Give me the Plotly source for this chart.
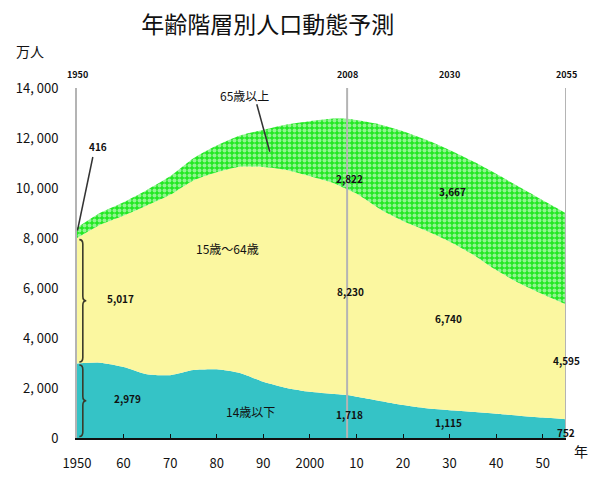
import plotly.graph_objects as go

# Population by age group (10,000 persons), census results + medium-variant projection
years = [1950, 1955, 1960, 1965, 1970, 1975, 1980, 1985, 1990, 1995, 2000,
         2005, 2008, 2010, 2015, 2020, 2025, 2030, 2035, 2040, 2045, 2050, 2055]
age_0_14 = [2979, 3012, 2843, 2553, 2515, 2722, 2751, 2603, 2249, 2001, 1847,
            1759, 1718, 1648, 1484, 1324, 1195, 1115, 1047, 973, 893, 821, 752]
age_15_64 = [5017, 5517, 6047, 6744, 7212, 7581, 7883, 8251, 8590, 8716, 8622,
             8442, 8230, 8128, 7681, 7360, 7097, 6740, 6296, 5744, 5295, 4930, 4595]
age_65_up = [416, 479, 540, 624, 739, 887, 1065, 1247, 1489, 1826, 2204,
             2576, 2822, 2941, 3378, 3590, 3635, 3667, 3725, 3853, 3856, 3764, 3646]

# Years that get value labels
label_years = [1950, 2008, 2030, 2055]
marker_lines = [2008, 2055]

y_ticks = [0, 2000, 4000, 6000, 8000, 10000, 12000, 14000]
y_ticktext = ["0", "2,\u00a0000", "4,\u00a0000", "6,\u00a0000", "8,\u00a0000",
              "10,\u00a0000", "12,\u00a0000", "14,\u00a0000"]
x_ticks = [1950, 1960, 1970, 1980, 1990, 2000, 2010, 2020, 2030, 2040, 2050]
x_ticktext = ["1950", "60", "70", "80", "90", "2000", "10", "20", "30", "40", "50"]

group_names = ["14歳以下", "15歳～64歳", "65歳以上"]

FONT = "Noto Sans CJK JP"

fig = go.Figure()
fig.add_trace(go.Scatter(
    x=years, y=age_0_14, name=group_names[0], stackgroup="pop",
    line=dict(width=0, shape="spline", smoothing=0.6), fillcolor="#35C3C6",
    hoverinfo="x+y+name"))
fig.add_trace(go.Scatter(
    x=years, y=age_15_64, name=group_names[1], stackgroup="pop",
    line=dict(width=0, shape="spline", smoothing=0.6), fillcolor="#FBF7A0",
    hoverinfo="x+y+name"))
fig.add_trace(go.Scatter(
    x=years, y=age_65_up, name=group_names[2], stackgroup="pop",
    line=dict(width=0, shape="spline", smoothing=0.6), fillcolor="#22E822",
    fillpattern=dict(shape=".", bgcolor="#22E822", fgcolor="#FFFFFF",
                     size=5, solidity=0.5),
    hoverinfo="x+y+name"))

shapes = []
# Vertical reference lines
for yr in marker_lines:
    shapes.append(dict(type="line", xref="x", yref="paper", x0=yr, x1=yr, y0=0, y1=1,
                       line=dict(color="#B4B4B4", width=2)))


def brace(x0, w, y0, y1, d=180):
    xm = x0 + w / 2
    x1 = x0 + w
    mid = (y0 + y1) / 2
    return (f"M {x0},{y1} Q {xm},{y1} {xm},{y1 - d} L {xm},{mid + d} "
            f"Q {xm},{mid} {x1},{mid} Q {xm},{mid} {xm},{mid - d} "
            f"L {xm},{y0 + d} Q {xm},{y0} {x0},{y0}")


i0 = years.index(1950)
b1 = age_0_14[i0]
b2 = b1 + age_15_64[i0]
for lo, hi in [(0, b1), (b1, b2)]:
    shapes.append(dict(type="path", xref="x", yref="y", path=brace(1950.5, 1.5, lo + 60, hi - 60),
                       line=dict(color="#3A3A2A", width=1.6)))

# Leader lines
shapes.append(dict(type="line", xref="x", yref="y", x0=1953.4, y0=11240, x1=1950.1, y1=8300,
                   line=dict(color="#333333", width=1.5)))
shapes.append(dict(type="line", xref="x", yref="y", x0=1988.6, y0=13350, x1=1991.4, y1=11450,
                   line=dict(color="#333333", width=1.5)))

annotations = []
# Year labels above the plot
for yr in label_years:
    annotations.append(dict(x=yr, y=1, xref="x", yref="paper", yshift=22, text=f"<b>{yr}</b>",
                            showarrow=False, font=dict(family=FONT, size=9, color="#111111")))

# Value label positions per labelled year: (x, y) for 0-14, 15-64, 65+
value_pos = {
    1950: [(1960.8, 1600), (1959.3, 5600), (1954.5, 11650)],
    2008: [(2008.5, 960), (2008.8, 5880), (2008.6, 10400)],
    2030: [(2029.8, 640), (2029.7, 4800), (2030.6, 9880)],
    2055: [(2055.0, 230), (2055.0, 3120), (2055.2, 7400)],
}
series = [age_0_14, age_15_64, age_65_up]
for yr in label_years:
    idx = years.index(yr)
    for k in range(3):
        px, py = value_pos[yr][k]
        annotations.append(dict(x=px, y=py, xref="x", yref="y",
                                text=f"<b>{series[k][idx]:,}</b>", showarrow=False,
                                font=dict(family=FONT, size=10, color="#111111")))

# Group names
for name, (px, py) in zip(group_names, [(1987.2, 1080), (1982.4, 7600), (1986.0, 13720)]):
    annotations.append(dict(x=px, y=py, xref="x", yref="y", text=name, showarrow=False,
                            font=dict(family=FONT, size=12, color="#111111")))

# Unit labels
annotations.append(dict(xref="x domain", yref="y domain", x=-0.128, y=1.14, text="万人",
                        showarrow=False, font=dict(family=FONT, size=14, color="#111111")))
annotations.append(dict(xref="x domain", yref="y domain", x=1.05, y=-0.07, text="年",
                        showarrow=False, font=dict(family=FONT, size=14, color="#111111")))

fig.update_layout(
    width=595, height=481,
    margin=dict(l=77, r=29, t=88, b=43),
    paper_bgcolor="white", plot_bgcolor="white",
    showlegend=False,
    title=dict(text="年齢階層別人口動態予測", x=0.45, xref="container", xanchor="center",
               y=0.948, yref="container", yanchor="middle",
               font=dict(family=FONT, size=23, color="#111111")),
    shapes=shapes, annotations=annotations,
    font=dict(family=FONT, color="#111111"),
)
fig.update_xaxes(range=[1950, 2055], tickvals=x_ticks, ticktext=x_ticktext,
                 showgrid=False, zeroline=False, showline=True, linecolor="#111111",
                 linewidth=2, ticks="inside", ticklen=4, tickcolor="#111111",
                 ticklabelstandoff=12, automargin=False,
                 tickfont=dict(family=FONT, size=13))
fig.update_yaxes(range=[0, 14000], tickvals=y_ticks, ticktext=y_ticktext,
                 showgrid=False, zeroline=False, showline=True, linecolor="#B4B4B4",
                 linewidth=2, ticks="", ticklabelstandoff=14, automargin=False,
                 tickfont=dict(family=FONT, size=13))

fig.write_html("out.html")
